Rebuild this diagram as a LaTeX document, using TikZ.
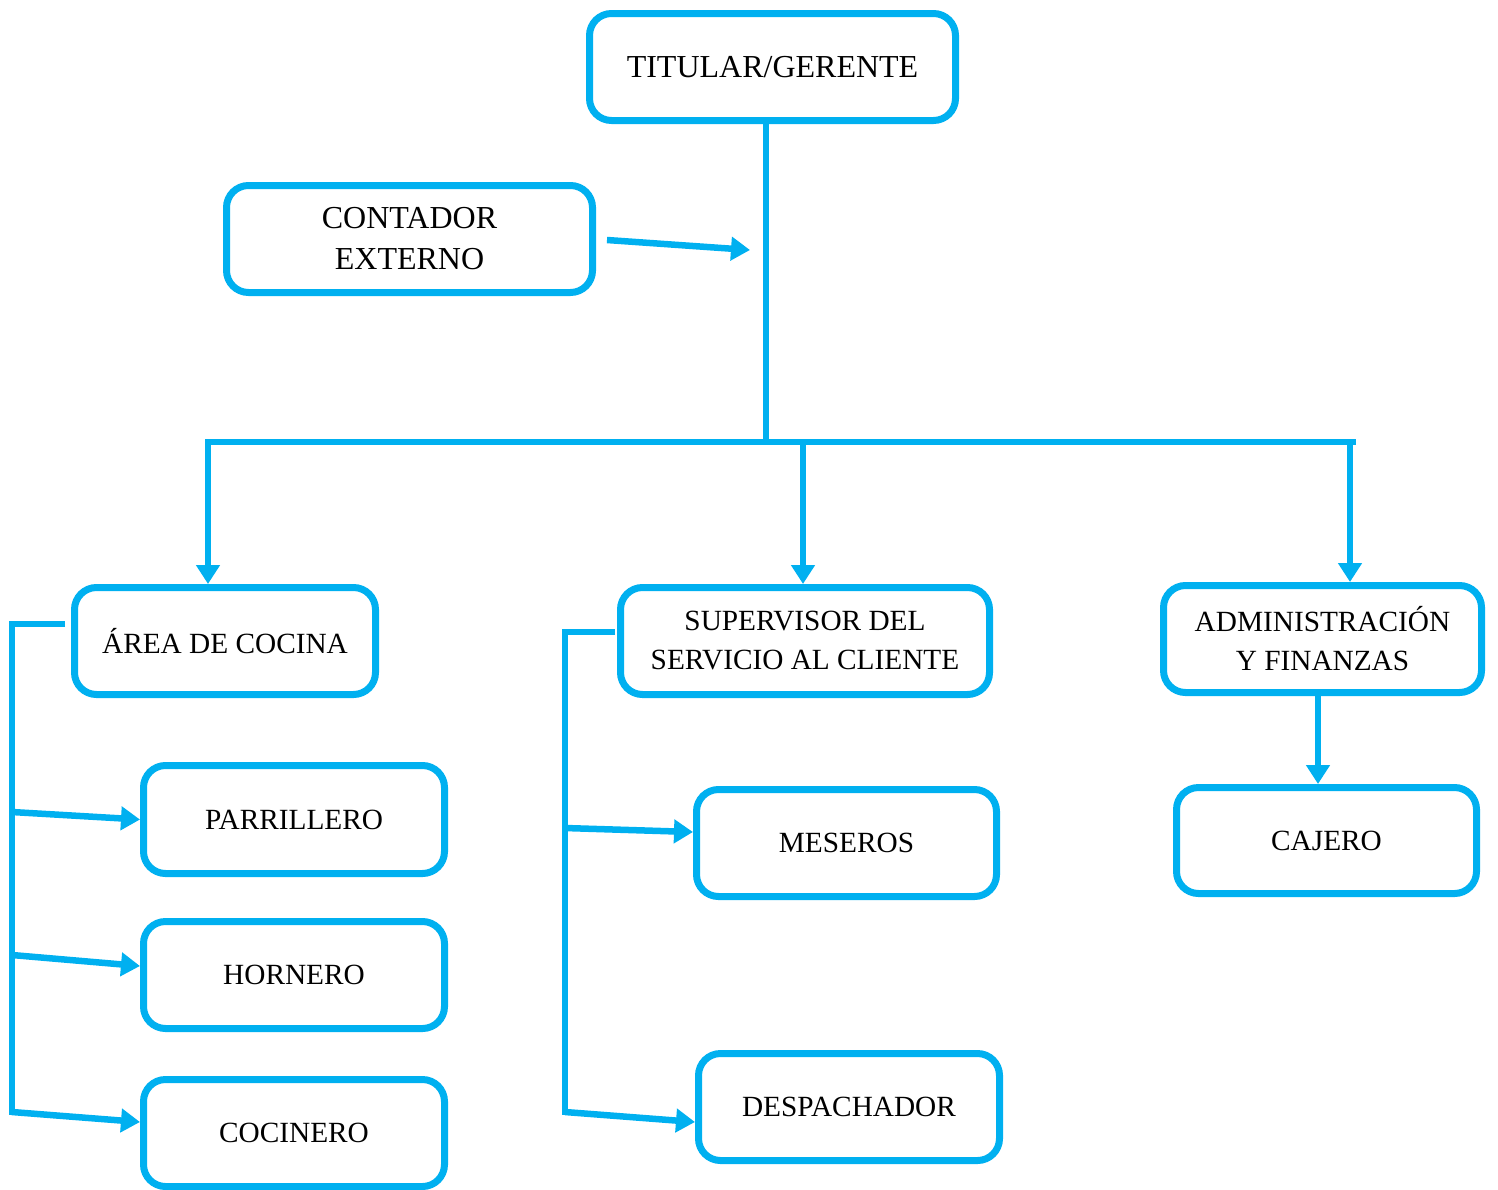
\documentclass[tikz,border=0pt]{standalone}
\usepackage{fontspec}
\setmainfont{Liberation Serif}
\usetikzlibrary{arrows.meta}
\definecolor{cy}{HTML}{00B0F0}
\tikzset{
  box/.style={draw=cy, line width=7pt, rounded corners=22pt, inner sep=0pt,
    align=center, font=\fontsize{29.3}{39}\selectfont, text=black, fill=white},
  bigtext/.style={font=\fontsize{32}{41}\selectfont},
  conn/.style={draw=cy, line width=6.5pt},
  arr/.style={conn, -{Triangle[length=19pt,width=23pt]}},
}
\begin{document}
\begin{tikzpicture}[x=1pt,y=-1pt]
\useasboundingbox (0,0) rectangle (1498,1189);
% boxes
\node[box, bigtext, minimum width=366pt, minimum height=107pt] (tit) at (772.5,67) {TITULAR/GERENTE};
\node[box, bigtext, minimum width=366pt, minimum height=107pt] (cont) at (409.5,239) {CONTADOR\\EXTERNO};
\node[box, minimum width=301pt, minimum height=107pt] (area) at (225,641) {ÁREA DE COCINA};
\node[box, minimum width=369pt, minimum height=107pt] (sup) at (805,641) {SUPERVISOR DEL\\SERVICIO AL CLIENTE};
\node[box, minimum width=318pt, minimum height=107pt] (adm) at (1322.5,639) {ADMINISTRACIÓN\\Y FINANZAS};
\node[box, minimum width=300pt, minimum height=106pt] (caj) at (1326.5,840.5) {CAJERO};
\node[box, minimum width=301pt, minimum height=108pt] (parr) at (294,819.5) {PARRILLERO};
\node[box, minimum width=301pt, minimum height=107pt] (horn) at (294,975) {HORNERO};
\node[box, minimum width=301pt, minimum height=107pt] (coc) at (294,1133) {COCINERO};
\node[box, minimum width=300pt, minimum height=107pt] (mes) at (846.5,843) {MESEROS};
\node[box, minimum width=301pt, minimum height=107pt] (desp) at (849,1107) {DESPACHADOR};
% coordinates
\coordinate (j) at (766,442);
\coordinate (hl) at (205,442);
\coordinate (hr) at (1356,442);
\coordinate (cin) at (750,250);
\coordinate (kl) at (12,624);
\coordinate (ks) at (565,632);
% trunk and bar
\draw[conn] (j |- tit.south) -- (j);
\draw[conn] (hl) -- (hr);
\draw[arr] (cont.east) ++(11,1) -- (cin);
% drops
\draw[arr] (208,442) -- (208,0 |- area.north);
\draw[arr] (803,442) -- (803,0 |- sup.north);
\draw[arr] (1350,442) -- (1350,0 |- adm.north);
\draw[arr] (1318,0 |- adm.south) -- (1318,0 |- caj.north);
% left bracket
\draw[conn] (area.west) ++(-6,-17) -- (kl) -- (12,1115);
\draw[arr] (12,812) -- (parr.west);
\draw[arr] (12,955) -- ([yshift=9pt]horn.west);
\draw[arr] (12,1112) -- ([yshift=11pt]coc.west);
% supervisor bracket
\draw[conn] (sup.west) ++(-2,-9) -- (ks) -- (565,1115);
\draw[arr] (565,828) -- ([yshift=11pt]mes.west);
\draw[arr] (565,1112) -- ([yshift=-15pt]desp.west);
\end{tikzpicture}
\end{document}
